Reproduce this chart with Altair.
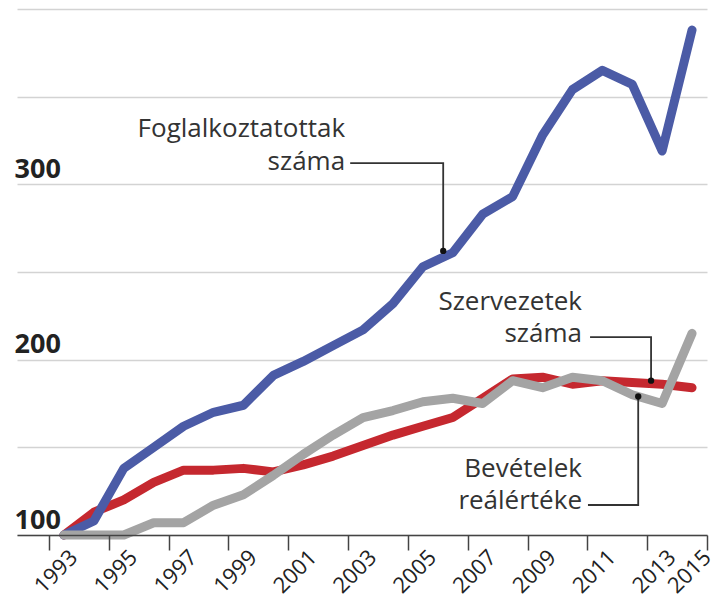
import altair as alt
import pandas as pd

# --- data (index, 1993 = 100) ---
years = list(range(1993, 2015))
foglalkoztatottak = [100, 108, 138, 150, 162, 170, 174, 191, 199, 208, 217, 232,
                     253, 261, 283, 293, 328, 354, 365, 357, 319, 388]
szervezetek = [100, 113, 120, 130, 137, 137, 138, 136, 140, 145, 151, 157,
               162, 167, 178, 189, 190, 186, 188, 187, 186, 184]
bevetelek = [100, 100, 100, 107, 107, 117, 123, 134, 146, 157, 167, 171,
             176, 178, 175, 188, 184, 190, 188, 180, 175, 215]

series_names = ["Szervezetek száma", "Foglalkoztatottak száma", "Bevételek reálértéke"]
series_colors = ["#c5282f", "#4b5ba6", "#a4a4a4"]

# x-axis ticks (between years) and the year labels shown near them
tick_values = [1992.5 + i for i in range(23)]
label_text = ["1993", "1995", "1997", "1999", "2001", "2003", "2005",
              "2007", "2009", "2011", "2013", "2015"]
label_at = [1993.5, 1995.5, 1997.5, 1999.5, 2001.5, 2003.5, 2005.5,
            2007.5, 2009.5, 2011.5, 2013.5, 2014.68]
y_grid_values = [100, 150, 200, 250, 300, 350, 400]

# annotations (data coordinates)
ann_text = ["Foglalkoztatottak", "száma", "Szervezetek", "száma", "Bevételek", "reálértéke"]
ann_x = [2002.4, 2002.4, 2010.32, 2010.32, 2010.32, 2010.32]
ann_y = [327.0, 308.2, 228.3, 210.0, 133.0, 114.8]

leader_id = ["a", "a", "a", "b", "b", "b", "c", "c", "c"]
leader_order = [0, 1, 2, 0, 1, 2, 0, 1, 2]
leader_x = [2002.57, 2005.68, 2005.68, 2010.59, 2012.63, 2012.63, 2010.52, 2012.2, 2012.2]
leader_y = [312.1, 312.1, 262.0, 212.9, 212.9, 188.0, 117.1, 117.1, 179.0]

dot_x = [2005.68, 2012.63, 2012.2]
dot_y = [262.0, 188.0, 179.0]

# --- tables ---
rows = []
for name, vals in zip(series_names, [szervezetek, foglalkoztatottak, bevetelek]):
    for yr, v in zip(years, vals):
        rows.append({"ev": yr, "ertek": v, "sorozat": name})
df = pd.DataFrame(rows)
ann_df = pd.DataFrame({"x": ann_x, "y": ann_y, "t": ann_text})
lead_df = pd.DataFrame({"x": leader_x, "y": leader_y, "id": leader_id, "o": leader_order})
dot_df = pd.DataFrame({"x": dot_x, "y": dot_y})
lab_df = pd.DataFrame({"x": label_at, "t": label_text})

FONT = "Open Sans"

x_scale = alt.Scale(domain=[1991.43, 2014.5], nice=False, zero=False)
y_scale = alt.Scale(domain=[100, 400], nice=False, zero=False)

x_axis = alt.Axis(
    values=tick_values, labels=False,
    tickSize=15, tickColor="#444444", tickWidth=1.5,
    domainColor="#444444", domainWidth=1.5,
    grid=False, title=None, zindex=1,
)
y_axis = alt.Axis(
    values=y_grid_values,
    labelExpr="datum.value % 100 == 0 && datum.value < 400 ? datum.label : ''",
    grid=True, gridColor="#d3d3d3", gridWidth=1.5,
    domain=False, ticks=False, tickSize=0,
    labelAlign="left", labelBaseline="alphabetic", labelOffset=-7, labelPadding=3,
    labelFont=FONT, labelFontSize=27, labelFontWeight="bold", labelColor="#222222",
    title=None,
)

lines = alt.Chart(df).mark_line(strokeWidth=9, strokeCap="round", strokeJoin="round").encode(
    x=alt.X("ev:Q", scale=x_scale, axis=x_axis),
    y=alt.Y("ertek:Q", scale=y_scale, axis=y_axis),
    color=alt.Color("sorozat:N", scale=alt.Scale(domain=series_names, range=series_colors), legend=None),
    order=alt.Order("ev:Q"),
)

leaders = alt.Chart(lead_df).mark_line(color="#333333", strokeWidth=1.8).encode(
    x="x:Q", y="y:Q", detail="id:N", order="o:Q"
)
dots = alt.Chart(dot_df).mark_circle(color="#111111", size=40, opacity=1).encode(x="x:Q", y="y:Q")
texts = alt.Chart(ann_df).mark_text(
    align="right", baseline="alphabetic", font=FONT, fontSize=26, color="#333333"
).encode(x="x:Q", y="y:Q", text="t:N")

year_labels = alt.Chart(lab_df).mark_text(
    angle=315, align="right", baseline="middle", font=FONT, fontSize=22, color="#222222",
    radius=5, theta=4.712,
).encode(x="x:Q", y=alt.value(545), text="t:N")

chart = alt.layer(lines, leaders, dots, texts, year_labels).properties(
    width=690, height=526,
    autosize=alt.AutoSizeParams(type="none"),
    padding={"left": 9, "top": 1, "right": 4, "bottom": 65},
    background="white",
).configure_view(stroke=None)

chart.save("out.html", embed_options={"renderer": "svg", "actions": False})
